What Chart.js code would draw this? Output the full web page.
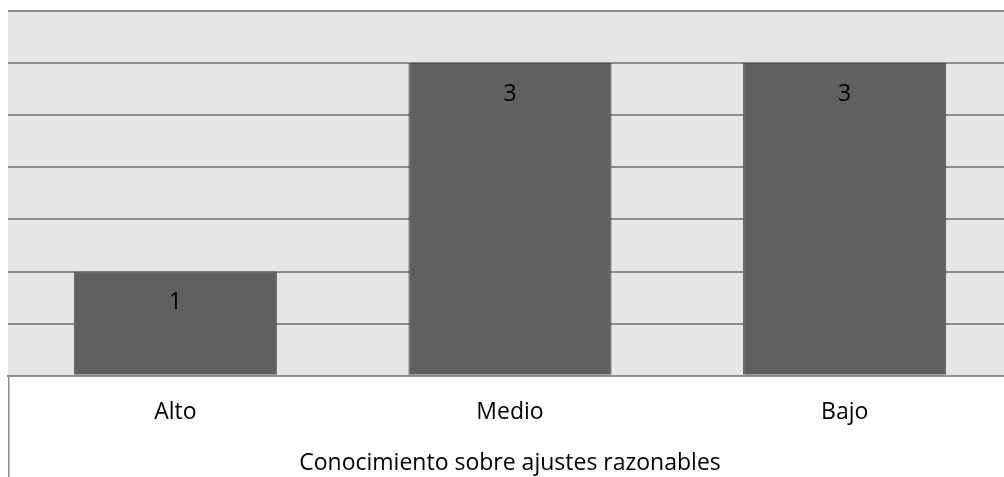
<!DOCTYPE html>
<html>
<head>
<meta charset="utf-8">
<script src="https://cdn.jsdelivr.net/npm/chart.js@4/dist/chart.umd.min.js"></script>
<style>
  html, body { margin: 0; padding: 0; background: #fff; overflow: hidden; }
  #wrap { width: 1012px; height: 477px; }
</style>
</head>
<body>
<div id="wrap"><canvas id="grafico"></canvas></div>
<script>
var categorie = ['Alto', 'Medio', 'Bajo'];
var valori = [1, 3, 3];
var titoloAsse = 'Conocimiento sobre ajustes razonables';

var fontBase = "'Open Sans', sans-serif";

// sfondo grigio dell'area del grafico
var sfondoArea = {
  id: 'sfondoArea',
  beforeDraw: function(chart) {
    var a = chart.chartArea;
    var ctx = chart.ctx;
    ctx.save();
    ctx.fillStyle = '#e6e6e6';
    ctx.fillRect(a.left, a.top, a.right - a.left, a.bottom - a.top);
    ctx.restore();
  },
  afterDraw: function(chart) {
    // linea verticale a sinistra sotto l'asse
    var a = chart.chartArea;
    var ctx = chart.ctx;
    ctx.save();
    ctx.strokeStyle = '#8c8c8c';
    ctx.lineWidth = 1.5;
    ctx.beginPath();
    ctx.moveTo(a.left + 0.75, a.bottom);
    ctx.lineTo(a.left + 0.75, chart.height);
    ctx.stroke();
    ctx.restore();
  }
};

// etichette dei valori dentro le barre
var etichette = {
  id: 'etichette',
  afterDatasetsDraw: function(chart) {
    var ctx = chart.ctx;
    var meta = chart.getDatasetMeta(0);
    ctx.save();
    ctx.fillStyle = '#000';
    ctx.font = '23px ' + fontBase;
    ctx.textAlign = 'center';
    ctx.textBaseline = 'middle';
    meta.data.forEach(function(bar, i) {
      ctx.fillText(String(valori[i]), bar.x, bar.y + 31);
    });
    ctx.restore();
  }
};

var ctx = document.getElementById('grafico').getContext('2d');

var grafico = new Chart(ctx, {
  type: 'bar',
  data: {
    labels: categorie,
    datasets: [{
      data: valori,
      backgroundColor: '#606060',
      borderColor: '#505050',
      borderWidth: 1,
      barPercentage: 0.607,
      categoryPercentage: 1
    }]
  },
  options: {
    responsive: true,
    maintainAspectRatio: false,
    animation: false,
    layout: { padding: { left: 8, top: 11, right: 0, bottom: 0 } },
    plugins: {
      legend: { display: false },
      tooltip: { enabled: false }
    },
    scales: {
      x: {
        grid: { display: false, drawTicks: false },
        border: { display: true, color: '#8c8c8c', width: 2 },
        ticks: { color: '#000', font: { family: fontBase, size: 23 }, padding: 23 },
        title: {
          display: true,
          text: titoloAsse,
          color: '#000',
          font: { family: fontBase, size: 23 },
          padding: { top: 0, bottom: 0 }
        }
      },
      y: {
        min: 0,
        max: 3.5,
        ticks: { display: false, stepSize: 0.5 },
        grid: { color: '#8c8c8c', lineWidth: 2, drawTicks: false },
        border: { display: false }
      }
    }
  },
  plugins: [sfondoArea, etichette]
});
</script>
</body>
</html>
